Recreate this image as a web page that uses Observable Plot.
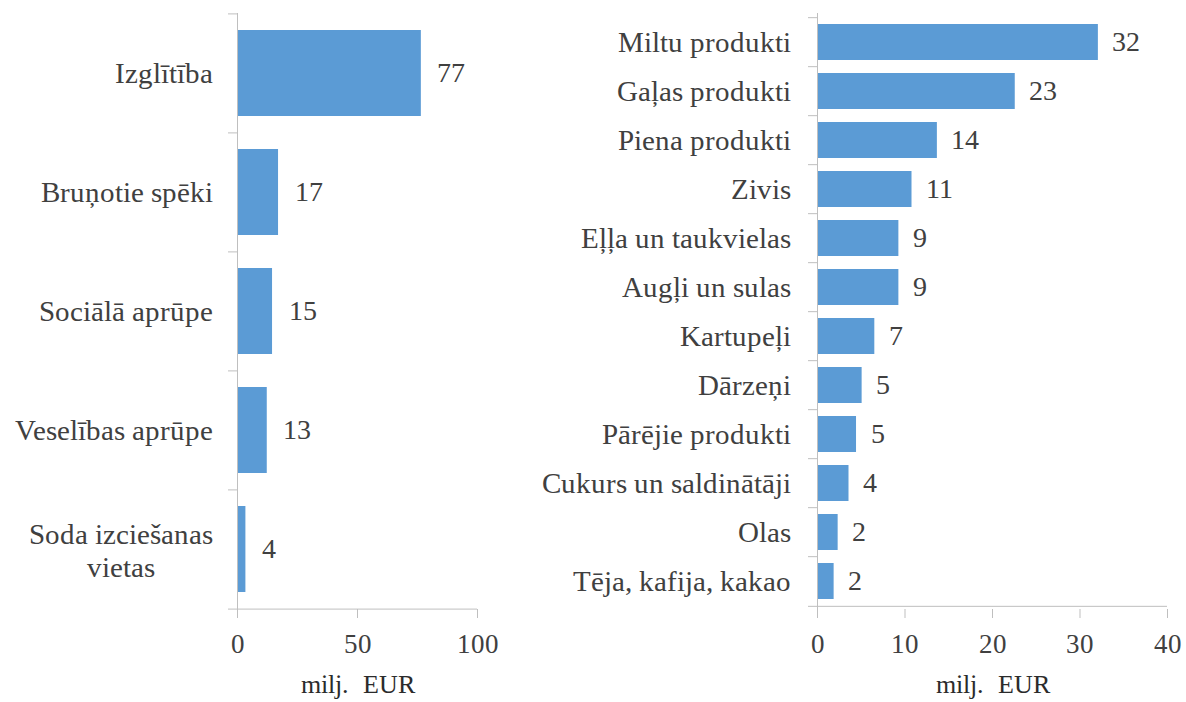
<!DOCTYPE html>
<html>
<head>
<meta charset="utf-8">
<script src="https://cdn.jsdelivr.net/npm/d3@7"></script>
<script src="https://cdn.jsdelivr.net/npm/@observablehq/plot@0.6"></script>
<style>
  @font-face { font-family: "ChartSerif"; src: local("Liberation Serif"), local("LiberationSerif"), local("Times New Roman"); }
  html, body { margin: 0; padding: 0; background: #fff; }
  #wrap { display: flex; width: 1186px; height: 702px; overflow: hidden; }
  #wrap svg, #wrap svg text, #wrap svg tspan { font-family: "ChartSerif", "Liberation Serif", "Times New Roman", serif !important; }
  g[aria-label="x-axis tick label"] { font-size: 27px; }
  g[aria-label="x-axis tick"] { stroke: #bfbfbf; }
</style>
</head>
<body>
<div id="wrap"></div>
<script>
// ---- Data ----
const leftNames = ["Izglītība", "Bruņotie spēki", "Sociālā aprūpe", "Veselības aprūpe", "Soda izciešanas vietas"];
const leftValues = [76.6, 17.1, 14.6, 12.4, 3.5];
const leftLabels = ["77", "17", "15", "13", "4"];
const leftTicks = [0, 50, 100];

const rightNames = ["Miltu produkti", "Gaļas produkti", "Piena produkti", "Zivis", "Eļļa un taukvielas",
  "Augļi un sulas", "Kartupeļi", "Dārzeņi", "Pārējie produkti", "Cukurs un saldinātāji", "Olas", "Tēja, kafija, kakao"];
const rightValues = [32.1, 22.6, 13.7, 10.8, 9.3, 9.3, 6.55, 5.1, 4.46, 3.6, 2.36, 1.9];
const rightLabels = ["32", "23", "14", "11", "9", "9", "7", "5", "5", "4", "2", "2"];
const rightTicks = [0, 10, 20, 30, 40];

const unitLabel = "milj.\u00a0\u00a0EUR";

// ---- Style ----
const FONT = "ChartSerif, 'Liberation Serif', 'Times New Roman', serif";
const barColor = "#5B9BD5";
const axisColor = "#bfbfbf";
const textColor = "#404040";
const catFont = 29;
const valFont = 28;
const H = 702, MT = 13, MB = 93;
const tickLen = 9;

function measure(text, size) {
  const c = document.createElement("canvas").getContext("2d");
  c.font = `${size}px "Liberation Serif"`;
  return c.measureText(text).width;
}

function chart({names, values, labels, ticks, width, marginLeft, marginRight, labelPad, valueDx, wrapLast}) {
  const data = names.map((name, i) => ({name, value: values[i], label: labels[i]}));
  const xMax = ticks[ticks.length - 1];
  const plotW = width - marginLeft - marginRight;
  const unitsPerPx = xMax / plotW;
  const step = (H - MT - MB) / names.length;
  const last = names[names.length - 1];
  const axisNames = wrapLast ? names.slice(0, -1) : names;

  const marks = [
    Plot.barX(data, {x: "value", y: "name", fill: barColor}),
    Plot.ruleX([0], {stroke: axisColor}),
    Plot.ruleY(names, {y: d => d, x1: () => -tickLen * unitsPerPx, x2: () => 0, dy: -step / 2, stroke: axisColor}),
    Plot.ruleY([last], {y: d => d, x1: () => -tickLen * unitsPerPx, x2: () => xMax, dy: step / 2, stroke: axisColor}),
    Plot.axisX({ticks, tickSize: tickLen, tickPadding: 15, label: null, fill: textColor, fontFamily: FONT}),
    Plot.axisY(axisNames, {tickSize: 0, tickPadding: labelPad, label: null, fill: textColor, fontSize: catFont, fontFamily: FONT}),
    Plot.text(data, {x: "value", y: "name", text: "label", textAnchor: "start", dx: valueDx, fontSize: valFont, fill: textColor, fontFamily: FONT}),
    Plot.text([unitLabel], {frameAnchor: "bottom", text: d => d, lineAnchor: "bottom", dy: 83, fontSize: 26, fill: "#2b2b2b", fontFamily: FONT})
  ];
  if (wrapLast) {
    const w = measure("Soda izciešanas", catFont);
    marks.push(Plot.text([last], {
      y: d => d, frameAnchor: "left", text: () => "Soda izciešanas\nvietas",
      textAnchor: "middle", dx: -(labelPad + w / 2), fontSize: catFont, lineHeight: 1.15, fill: textColor, fontFamily: FONT
    }));
  }
  return Plot.plot({
    width, height: H,
    marginLeft, marginRight, marginTop: MT, marginBottom: MB,
    x: {domain: [0, xMax]},
    y: {domain: names, paddingInner: 0.275, paddingOuter: 0.1375},
    style: {fontFamily: FONT, fontSize: catFont + "px", color: textColor, background: "white", overflow: "visible"},
    marks
  });
}

const wrap = document.getElementById("wrap");
wrap.appendChild(chart({
  names: leftNames, values: leftValues, labels: leftLabels, ticks: leftTicks,
  width: 500, marginLeft: 237, marginRight: 23, labelPad: 25, valueDx: 16, wrapLast: true
}));
wrap.appendChild(chart({
  names: rightNames, values: rightValues, labels: rightLabels, ticks: rightTicks,
  width: 686, marginLeft: 317, marginRight: 19, labelPad: 27, valueDx: 14, wrapLast: false
}));
</script>
</body>
</html>
